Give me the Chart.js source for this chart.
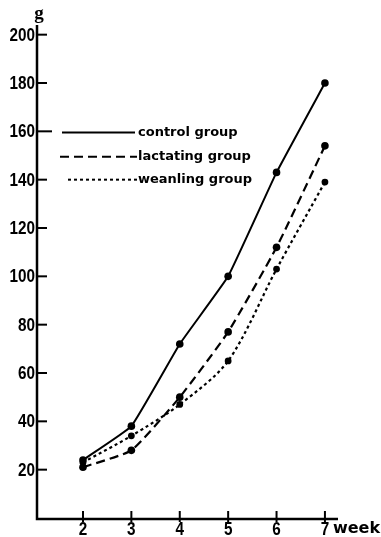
<!DOCTYPE html>
<html><head><meta charset="utf-8">
<script src="https://cdn.jsdelivr.net/npm/chart.js@4"></script>
<style>html,body{margin:0;padding:0;background:#fff}#wrap{width:381px;height:537px;position:relative}</style>
</head><body><div id="wrap"><canvas id="c" width="381" height="537"></canvas></div>
<script>
const weeks = [2, 3, 4, 5, 6, 7];
const controlGroup = [24, 38, 72, 100, 143, 180];
const lactatingGroup = [21, 28, 50, 77, 112, 154];
const weanlingGroup = [23, 34, 47, 65, 103, 139];
const yTickLabels = [20, 40, 60, 80, 100, 120, 140, 160, 180, 200];
const xTickLabels = [2, 3, 4, 5, 6, 7];
const seriesNames = ['control group', 'lactating group', 'weanling group'];
const yUnit = 'g';
const xUnit = 'week';

const pts = arr => weeks.map((w, i) => ({x: w, y: arr[i]}));
const NUM_FONT = 'bold 18px "Liberation Sans", Arial, sans-serif';
const SQ = 0.85;

function condensedText(ctx, txt, x, y, align) {
  ctx.save();
  ctx.translate(x, y);
  ctx.scale(SQ, 1);
  ctx.textAlign = align;
  ctx.fillText(txt, 0, 0);
  ctx.restore();
}

const axesPlugin = {
  id: 'axesPlugin',
  afterDraw(chart) {
    const ctx = chart.ctx, xs = chart.scales.x, ys = chart.scales.y;
    const x0 = xs.getPixelForValue(xs.min), y0 = ys.getPixelForValue(0);
    const yTop = ys.getPixelForValue(ys.max), xRight = xs.getPixelForValue(xs.max);
    ctx.save();
    ctx.strokeStyle = '#000'; ctx.fillStyle = '#000';
    ctx.lineWidth = 2.5; ctx.lineCap = 'butt';
    ctx.beginPath(); ctx.moveTo(x0, yTop); ctx.lineTo(x0, y0 + 1); ctx.lineTo(xRight, y0 + 1); ctx.stroke();
    ctx.lineWidth = 2;
    ctx.font = NUM_FONT;
    ctx.textBaseline = 'middle';
    yTickLabels.forEach(v => {
      const y = ys.getPixelForValue(v);
      ctx.beginPath(); ctx.moveTo(x0, y); ctx.lineTo(x0 + (v === 160 ? 15 : 10), y); ctx.stroke();
      condensedText(ctx, String(v), x0 - 2, y + 1, 'right');
    });
    ctx.textBaseline = 'top';
    xTickLabels.forEach(v => {
      const x = xs.getPixelForValue(v);
      ctx.beginPath(); ctx.moveTo(x, y0 - 7); ctx.lineTo(x, y0 + 4); ctx.stroke();
      condensedText(ctx, String(v), x, y0 + 3, 'center');
    });
    // units
    ctx.textAlign = 'left'; ctx.textBaseline = 'top';
    ctx.font = 'bold 16px "DejaVu Sans", sans-serif';
    ctx.fillText(xUnit, xs.getPixelForValue(7) + 8, y0 + 3);
    ctx.font = 'bold 19px "Liberation Serif", serif';
    ctx.textAlign = 'center'; ctx.textBaseline = 'alphabetic';
    ctx.fillText(yUnit, x0 + 2, yTop - 6);
    // legend
    const styles = [[], [9, 5], [3, 3]];
    const lx = [[62, 135], [60, 137], [68, 137]];
    const ly = [ys.getPixelForValue(159.5), ys.getPixelForValue(149.5), ys.getPixelForValue(140)];
    ctx.font = 'bold 13px "DejaVu Sans", sans-serif';
    ctx.textAlign = 'left'; ctx.textBaseline = 'middle';
    seriesNames.forEach((n, i) => {
      ctx.setLineDash(styles[i]); ctx.lineWidth = 2;
      ctx.beginPath(); ctx.moveTo(lx[i][0], ly[i]); ctx.lineTo(lx[i][1], ly[i]); ctx.stroke();
      ctx.setLineDash([]);
      ctx.fillText(n, 138, ly[i]);
    });
    ctx.restore();
  }
};

new Chart(document.getElementById('c'), {
  type: 'line',
  data: {
    datasets: [
      {label: seriesNames[0], data: pts(controlGroup), borderColor: '#000', backgroundColor: '#000', borderWidth: 2, pointRadius: 3.8, pointBorderWidth: 0, tension: 0.1},
      {label: seriesNames[1], data: pts(lactatingGroup), borderColor: '#000', backgroundColor: '#000', borderWidth: 2.2, borderDash: [9, 5], pointRadius: 3.8, pointBorderWidth: 0, tension: 0.15},
      {label: seriesNames[2], data: pts(weanlingGroup), borderColor: '#000', backgroundColor: '#000', borderWidth: 2.2, borderDash: [3, 3], pointRadius: 3.4, pointBorderWidth: 0, tension: 0.3}
    ]
  },
  options: {
    responsive: false, animation: false,
    layout: {padding: {left: 37, top: 25, right: 43, bottom: 19}},
    plugins: {legend: {display: false}, tooltip: {enabled: false}},
    scales: {
      x: {type: 'linear', min: 1.05, max: 7.27, display: false},
      y: {type: 'linear', min: 0, max: 204, display: false}
    }
  },
  plugins: [axesPlugin]
});
</script></body></html>
